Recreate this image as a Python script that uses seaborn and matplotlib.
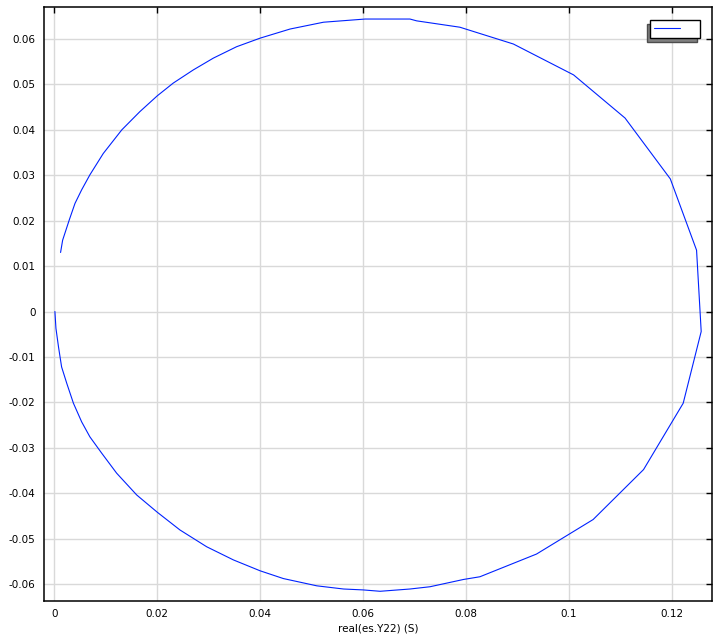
import pandas as pd
import numpy as np
import matplotlib
matplotlib.use('Agg')
import matplotlib.pyplot as plt
import seaborn as sns

# 读出的曲线点 (real / imag of Y22)
re_y22 = [0.0001, 0.0003, 0.0008, 0.0014, 0.0024, 0.0037, 0.0053, 0.0069, 0.0092, 0.0121,
          0.0160, 0.0200, 0.0244, 0.0296, 0.0348, 0.0400, 0.0445, 0.0510, 0.0562, 0.0600,
          0.0633, 0.0691, 0.0730, 0.0795, 0.0827, 0.0937, 0.1047, 0.1145, 0.1222, 0.1257,
          0.1248, 0.1197, 0.1109, 0.1009, 0.0892, 0.0788, 0.0704, 0.0691, 0.0604, 0.0523,
          0.0458, 0.0400, 0.0354, 0.0309, 0.0270, 0.0231, 0.0200, 0.0166, 0.0131, 0.0095,
          0.0069, 0.0053, 0.0040, 0.0029, 0.0016, 0.0012]
im_y22 = [0.0000, -0.0037, -0.0078, -0.0122, -0.0158, -0.0202, -0.0243, -0.0276, -0.0312, -0.0356,
          -0.0404, -0.0442, -0.0481, -0.0518, -0.0547, -0.0571, -0.0588, -0.0604, -0.0611, -0.0613,
          -0.0616, -0.0611, -0.0606, -0.0590, -0.0584, -0.0534, -0.0458, -0.0348, -0.0202, -0.0044,
          0.0135, 0.0292, 0.0426, 0.0521, 0.0589, 0.0626, 0.0640, 0.0644, 0.0644, 0.0637,
          0.0622, 0.0602, 0.0583, 0.0558, 0.0532, 0.0503, 0.0475, 0.0440, 0.0400, 0.0348,
          0.0301, 0.0268, 0.0238, 0.0202, 0.0157, 0.0130]

df = pd.DataFrame({'re': re_y22, 'im': im_y22})

sns.set_style('white')
plt.rcParams['font.family'] = ['DejaVu Sans']
plt.rcParams['axes.unicode_minus'] = False

fig = plt.figure(figsize=(7.22, 6.41), dpi=100)
ax = fig.add_axes([44 / 722, 40 / 641, 668 / 722, 594 / 641])

sns.lineplot(data=df, x='re', y='im', sort=False, estimator=None, color='#0022ff',
             linewidth=0.8, ax=ax, legend=False)

ax.set_xlim(-0.00202, 0.1278)
ax.set_ylim(-0.06374, 0.06705)
ax.set_xticks([0, 0.02, 0.04, 0.06, 0.08, 0.1, 0.12])
ax.set_xticklabels(['0', '0.02', '0.04', '0.06', '0.08', '0.1', '0.12'])
yt = [-0.06, -0.05, -0.04, -0.03, -0.02, -0.01, 0, 0.01, 0.02, 0.03, 0.04, 0.05, 0.06]
ax.set_yticks(yt)
ax.set_yticklabels(['%g' % v if v != 0 else '0' for v in yt])

ax.grid(True, color='#d9d9d9', linewidth=1.0)
ax.tick_params(direction='in', length=4.5, width=1.0, color='black', labelsize=7.5,
               top=True, right=True, pad=6, labelcolor='black')
for s in ax.spines.values():
    s.set_color('black')
    s.set_linewidth(1.1)

ax.set_xlabel('real(es.Y22) (S)', fontsize=7.5, labelpad=3, color='black')
ax.set_ylabel('')

# 图例 (空标签, 带阴影)
leg = ax.legend([ax.lines[0]], [''], loc='upper right', bbox_to_anchor=(0.982, 0.978),
                fontsize=7.5, frameon=True, fancybox=False,
                framealpha=1, edgecolor='black', handlelength=2.5, handletextpad=1.6,
                borderpad=0.36, borderaxespad=0,
                shadow={'ox': -2.2, 'oy': -2.9, 'facecolor': '#808080', 'alpha': 1})
leg.get_frame().set_linewidth(1.0)

plt.savefig('out.png', dpi=100)
